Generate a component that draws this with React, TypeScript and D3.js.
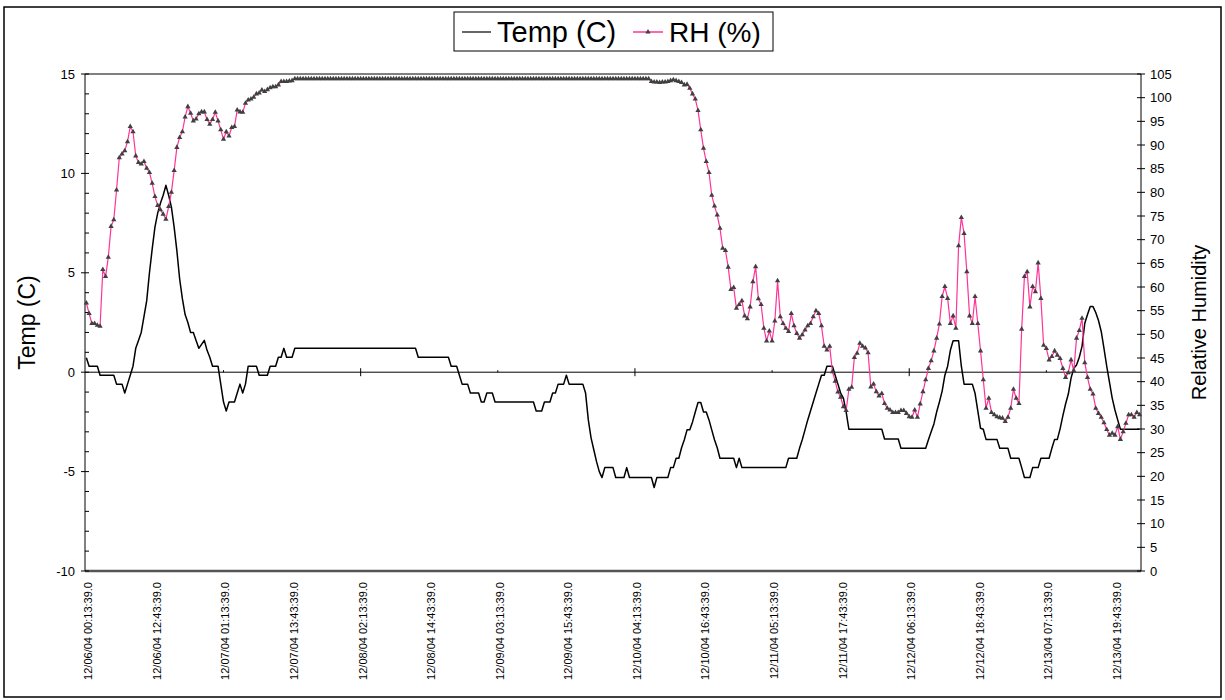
import React from 'react';
import * as d3 from 'd3';

// Half-hourly logger readings, 12/06/04 00:13:39 onward (one value per half hour)
const tempC: number[] = [
  0.73, 0.3, 0.3, 0.3, 0.3, -0.15, -0.15, -0.15, -0.15, -0.15, -0.15, -0.6, -0.6, -0.6, -1.05, -0.6, -0.15, 0.3, 1.2, 1.6, 2.0, 2.8, 3.6, 5.0, 6.2,
  7.3, 8.0, 8.5, 8.9, 9.4, 8.9, 8.3, 7.3, 6.1, 4.7, 3.7, 2.9, 2.5, 2.0, 2.0, 1.6, 1.2, 1.4, 1.6, 1.1, 0.75, 0.3, 0.3, 0.3, -0.6,
  -1.5, -1.95, -1.5, -1.5, -1.5, -1.05, -0.6, -1.05, -0.6, 0.3, 0.3, 0.3, 0.3, -0.15, -0.15, -0.15, -0.15, 0.3, 0.3, 0.3, 0.75, 0.75, 1.2, 0.75, 0.75,
  0.75, 1.2, 1.2, 1.2, 1.2, 1.2, 1.2, 1.2, 1.2, 1.2, 1.2, 1.2, 1.2, 1.2, 1.2, 1.2, 1.2, 1.2, 1.2, 1.2, 1.2, 1.2, 1.2, 1.2, 1.2,
  1.2, 1.2, 1.2, 1.2, 1.2, 1.2, 1.2, 1.2, 1.2, 1.2, 1.2, 1.2, 1.2, 1.2, 1.2, 1.2, 1.2, 1.2, 1.2, 1.2, 1.2, 0.75, 0.75, 0.75, 0.75,
  0.75, 0.75, 0.75, 0.75, 0.75, 0.75, 0.75, 0.75, 0.3, 0.3, 0.3, -0.15, -0.6, -0.6, -0.6, -1.05, -1.05, -1.05, -1.05, -1.5, -1.5, -1.05, -1.05, -1.05, -1.5,
  -1.5, -1.5, -1.5, -1.5, -1.5, -1.5, -1.5, -1.5, -1.5, -1.5, -1.5, -1.5, -1.5, -1.5, -1.95, -1.95, -1.95, -1.5, -1.5, -1.5, -1.05, -1.05, -0.6, -0.6, -0.6,
  -0.15, -0.6, -0.6, -0.6, -0.6, -0.6, -0.6, -1.05, -2.4, -3.3, -3.9, -4.5, -5.0, -5.3, -4.8, -4.8, -4.8, -4.8, -5.3, -5.3, -5.3, -5.3, -4.8, -5.3, -5.3,
  -5.3, -5.3, -5.3, -5.3, -5.3, -5.3, -5.3, -5.8, -5.3, -5.3, -5.3, -5.3, -5.3, -4.8, -4.8, -4.33, -4.33, -3.8, -3.4, -2.9, -2.9, -2.5, -2.0, -1.52, -1.52,
  -2.0, -2.0, -2.4, -2.9, -3.4, -3.8, -4.33, -4.33, -4.33, -4.33, -4.33, -4.33, -4.8, -4.33, -4.8, -4.8, -4.8, -4.8, -4.8, -4.8, -4.8, -4.8, -4.8, -4.8, -4.8,
  -4.8, -4.8, -4.8, -4.8, -4.8, -4.8, -4.33, -4.33, -4.33, -4.33, -3.83, -3.4, -2.9, -2.4, -1.95, -1.5, -1.05, -0.6, -0.15, -0.15, 0.3, 0.3, 0.3, -0.15, -0.6,
  -1.05, -1.3, -2.0, -2.87, -2.87, -2.87, -2.87, -2.87, -2.87, -2.87, -2.87, -2.87, -2.87, -2.87, -2.87, -2.87, -3.36, -3.36, -3.36, -3.36, -3.36, -3.36, -3.83, -3.83, -3.83,
  -3.83, -3.83, -3.83, -3.83, -3.83, -3.83, -3.83, -3.4, -3.0, -2.6, -2.0, -1.5, -0.95, -0.15, 0.3, 1.1, 1.58, 1.58, 1.58, 0.3, -0.6, -0.6, -0.6, -0.6, -1.06,
  -1.95, -2.82, -2.87, -3.38, -3.38, -3.38, -3.38, -3.38, -3.83, -3.83, -3.83, -3.83, -4.33, -4.33, -4.33, -4.33, -4.8, -5.3, -5.3, -5.3, -4.8, -4.8, -4.8, -4.33, -4.33,
  -4.33, -4.33, -3.83, -3.38, -3.38, -2.85, -2.2, -1.6, -1.1, -0.3, 0.2, 0.36, 0.75, 1.3, 2.46, 2.9, 3.3, 3.3, 3.0, 2.6, 2.05, 1.2, 0.3, -0.5, -1.3,
  -1.9, -2.4, -2.87, -2.87, -2.87, -2.87, -2.87, -2.87, -2.87, -2.87,
];

const relHumidity: number[] = [
  56.6, 54.4, 52.3, 52.3, 51.9, 51.7, 63.7, 62.2, 66.3, 72.8, 74.2, 80.5, 87.3, 88.1, 88.8, 90.7, 93.9, 92.8, 87.7, 86.3, 86.0, 86.5, 85.1, 84.2, 81.9,
  79.1, 77.2, 76.3, 75.4, 74.3, 77.0, 80.0, 84.6, 89.5, 91.6, 92.8, 95.9, 98.1, 96.7, 95.1, 95.5, 96.6, 97.0, 97.0, 95.4, 94.4, 95.4, 96.9, 95.1, 93.2,
  91.2, 92.8, 91.9, 93.7, 93.9, 97.4, 97.0, 96.9, 98.8, 99.5, 99.7, 100.1, 100.8, 101.0, 101.6, 101.3, 101.7, 102.1, 102.3, 102.3, 102.7, 103.4, 103.4, 103.4, 103.5,
  103.6, 104.0, 104.0, 104.0, 104.0, 104.0, 104.0, 104.0, 104.0, 104.0, 104.0, 104.0, 104.0, 104.0, 104.0, 104.0, 104.0, 104.0, 104.0, 104.0, 104.0, 104.0, 104.0, 104.0, 104.0,
  104.0, 104.0, 104.0, 104.0, 104.0, 104.0, 104.0, 104.0, 104.0, 104.0, 104.0, 104.0, 104.0, 104.0, 104.0, 104.0, 104.0, 104.0, 104.0, 104.0, 104.0, 104.0, 104.0, 104.0, 104.0,
  104.0, 104.0, 104.0, 104.0, 104.0, 104.0, 104.0, 104.0, 104.0, 104.0, 104.0, 104.0, 104.0, 104.0, 104.0, 104.0, 104.0, 104.0, 104.0, 104.0, 104.0, 104.0, 104.0, 104.0, 104.0,
  104.0, 104.0, 104.0, 104.0, 104.0, 104.0, 104.0, 104.0, 104.0, 104.0, 104.0, 104.0, 104.0, 104.0, 104.0, 104.0, 104.0, 104.0, 104.0, 104.0, 104.0, 104.0, 104.0, 104.0, 104.0,
  104.0, 104.0, 104.0, 104.0, 104.0, 104.0, 104.0, 104.0, 104.0, 104.0, 104.0, 104.0, 104.0, 104.0, 104.0, 104.0, 104.0, 104.0, 104.0, 104.0, 104.0, 104.0, 104.0, 104.0, 104.0,
  104.0, 104.0, 104.0, 104.0, 104.0, 104.0, 103.4, 103.3, 103.3, 103.2, 103.3, 103.3, 103.4, 103.6, 103.8, 103.6, 103.4, 103.2, 102.7, 102.8, 102.0, 100.8, 99.7, 97.3, 93.2,
  89.3, 86.5, 84.2, 79.4, 77.1, 75.2, 72.4, 68.2, 67.7, 64.2, 59.5, 59.9, 55.5, 56.3, 57.1, 53.9, 53.3, 55.8, 61.1, 64.3, 57.5, 56.3, 51.3, 48.6, 50.7,
  48.6, 52.8, 61.3, 53.7, 52.3, 51.3, 50.6, 54.4, 51.8, 50.2, 49.2, 49.9, 50.9, 51.8, 52.3, 53.7, 55.0, 54.4, 51.8, 47.5, 46.7, 47.5, 42.1, 40.1, 37.8,
  36.7, 34.7, 33.9, 38.4, 38.8, 45.1, 46.0, 48.1, 47.5, 47.1, 46.1, 38.9, 39.5, 37.9, 37.0, 37.5, 35.4, 34.4, 34.0, 33.5, 33.5, 33.5, 33.9, 33.9, 33.3,
  32.6, 32.5, 34.0, 32.5, 35.3, 37.9, 40.4, 42.8, 44.4, 46.5, 49.2, 52.2, 58.0, 60.1, 57.6, 52.3, 53.9, 51.3, 68.7, 74.7, 71.3, 63.2, 53.9, 52.3, 58.0,
  52.3, 46.5, 40.4, 34.4, 36.5, 33.5, 33.0, 32.6, 32.4, 32.3, 31.6, 32.5, 34.4, 38.4, 36.5, 35.4, 51.1, 62.2, 63.2, 55.8, 60.1, 59.0, 65.1, 57.6, 47.7,
  47.0, 44.6, 45.3, 46.5, 45.6, 44.9, 42.8, 40.9, 41.9, 44.6, 42.3, 49.2, 50.8, 53.4, 44.0, 40.9, 38.4, 37.4, 34.4, 33.3, 32.5, 31.3, 29.9, 28.7, 29.1,
  28.7, 30.5, 27.8, 29.4, 31.2, 33.0, 33.0, 32.5, 33.5, 33.0,
];

// Category labels, one every 25 readings (12.5 hours)
const timeLabels: string[] = [
  '12/06/04 00:13:39.0', '12/06/04 12:43:39.0', '12/07/04 01:13:39.0', '12/07/04 13:43:39.0',
  '12/08/04 02:13:39.0', '12/08/04 14:43:39.0', '12/09/04 03:13:39.0', '12/09/04 15:43:39.0',
  '12/10/04 04:13:39.0', '12/10/04 16:43:39.0', '12/11/04 05:13:39.0', '12/11/04 17:43:39.0',
  '12/12/04 06:13:39.0', '12/12/04 18:43:39.0', '12/13/04 07:13:39.0', '12/13/04 19:43:39.0',
];
const labelStep = 25;
const majorTickStep = 100;
const minorTickStep = 50;

const tempTicks = [-10, -5, 0, 5, 10, 15];
const rhTicks = d3.range(0, 106, 5);

const FONT = '"Liberation Sans", Arial, Helvetica, sans-serif';
const PINK = '#ff3399';
const MARKER = '#404040';

const W = 1225;
const H = 700;
const plot = { left: 85, right: 1141, top: 74, bottom: 571 };

export default function App() {
  const idx = d3.range(tempC.length);
  const x = d3.scalePoint<number>().domain(idx).range([plot.left, plot.right]).padding(0.5);
  const yT = d3.scaleLinear().domain([-10, 15]).range([plot.bottom, plot.top]);
  const yRH = d3.scaleLinear().domain([0, 105]).range([plot.bottom, plot.top]);

  const tempPath = d3.line<number>().x((_, i) => x(i) as number).y((d) => yT(d))(tempC) || '';
  const rhPath = d3.line<number>().x((_, i) => x(i) as number).y((d) => yRH(d))(relHumidity) || '';
  const tri = d3.symbol().type(d3.symbolTriangle).size(12)() || '';

  const y0 = yT(0);
  const minorTemp = d3.range(-10, 16, 1).filter((v) => v % 5 !== 0);

  return (
    <svg
      width={W}
      height={H}
      style={{ position: 'absolute', left: 0, top: 0, background: '#fff' }}
      fontFamily={FONT}
    >
      <rect x={0} y={0} width={W} height={H} fill="#fff" />
      {/* chart frame */}
      <rect x={4} y={7} width={1217} height={690} fill="none" stroke="#000" strokeWidth={1.5} />

      {/* plot border */}
      <line x1={plot.left} x2={plot.right} y1={plot.top} y2={plot.top} stroke="#000" strokeWidth={1} />
      <line x1={plot.left} x2={plot.right} y1={plot.bottom} y2={plot.bottom} stroke="#555" strokeWidth={2.5} />

      {/* left axis */}
      <line x1={plot.left} x2={plot.left} y1={plot.top} y2={plot.bottom} stroke="#000" strokeWidth={1} />
      {minorTemp.map((v) => (
        <line key={'mt' + v} x1={plot.left} x2={plot.left + 4} y1={yT(v)} y2={yT(v)} stroke="#000" />
      ))}
      {tempTicks.map((v) => (
        <g key={'t' + v}>
          <line x1={plot.left - 4} x2={plot.left + 4} y1={yT(v)} y2={yT(v)} stroke="#000" />
          <text x={plot.left - 10} y={yT(v)} dy="0.35em" textAnchor="end" fontSize={13} fill="#000">
            {v}
          </text>
        </g>
      ))}
      <text
        transform={`translate(35,${(plot.top + plot.bottom) / 2}) rotate(-90)`}
        textAnchor="middle"
        fontSize={23}
        fill="#000"
      >
        Temp (C)
      </text>

      {/* right axis */}
      <line x1={plot.right} x2={plot.right} y1={plot.top} y2={plot.bottom} stroke="#000" strokeWidth={1} />
      {rhTicks.map((v) => (
        <g key={'r' + v}>
          <line x1={plot.right - 4} x2={plot.right + 4} y1={yRH(v)} y2={yRH(v)} stroke="#000" />
          <text x={plot.right + 9} y={yRH(v)} dy="0.35em" textAnchor="start" fontSize={13} fill="#000">
            {v}
          </text>
        </g>
      ))}
      <text
        transform={`translate(1206,${(plot.top + plot.bottom) / 2}) rotate(-90)`}
        textAnchor="middle"
        fontSize={20}
        fill="#000"
      >
        Relative Humidity
      </text>

      {/* category axis crossing at 0 °C */}
      <line x1={plot.left} x2={plot.right} y1={y0} y2={y0} stroke="#000" strokeWidth={1} />
      {idx
        .filter((i) => i > 0 && i % majorTickStep === 0)
        .map((i) => (
          <line key={'mj' + i} x1={x(i)} x2={x(i)} y1={y0 - 4} y2={y0 + 4} stroke="#000" />
        ))}
      {idx
        .filter((i) => i % minorTickStep === 0 && i % majorTickStep !== 0)
        .map((i) => (
          <line key={'mn' + i} x1={x(i)} x2={x(i)} y1={y0 - 2} y2={y0} stroke="#000" />
        ))}

      {/* category labels */}
      {timeLabels.map((lab, k) => {
        const px = (x(k * labelStep) as number) + 2;
        return (
          <text
            key={lab}
            transform={`translate(${px},${plot.bottom + 11}) rotate(-90)`}
            dy="0.35em"
            textAnchor="end"
            fontSize={11}
            fill="#000"
          >
            {lab}
          </text>
        );
      })}

      {/* series */}
      <path d={tempPath} fill="none" stroke="#000" strokeWidth={1.5} strokeLinejoin="round" />
      <path d={rhPath} fill="none" stroke={PINK} strokeWidth={1.2} strokeLinejoin="round" />
      {relHumidity.map((v, i) => (
        <path key={'m' + i} d={tri} transform={`translate(${x(i)},${yRH(v)})`} fill={MARKER} />
      ))}

      {/* legend */}
      <g>
        <rect x={454} y={12} width={319} height={39} fill="#fff" stroke="#000" strokeWidth={1} />
        <line x1={462} x2={491} y1={32} y2={32} stroke="#000" strokeWidth={1.2} />
        <text x={497} y={42} fontSize={29} fill="#000">
          Temp (C)
        </text>
        <line x1={633} x2={663} y1={32} y2={32} stroke={PINK} strokeWidth={1.5} />
        <path d={tri} transform="translate(648,32)" fill={MARKER} />
        <text x={669} y={42} fontSize={28} fill="#000">
          RH (%)
        </text>
      </g>
    </svg>
  );
}
